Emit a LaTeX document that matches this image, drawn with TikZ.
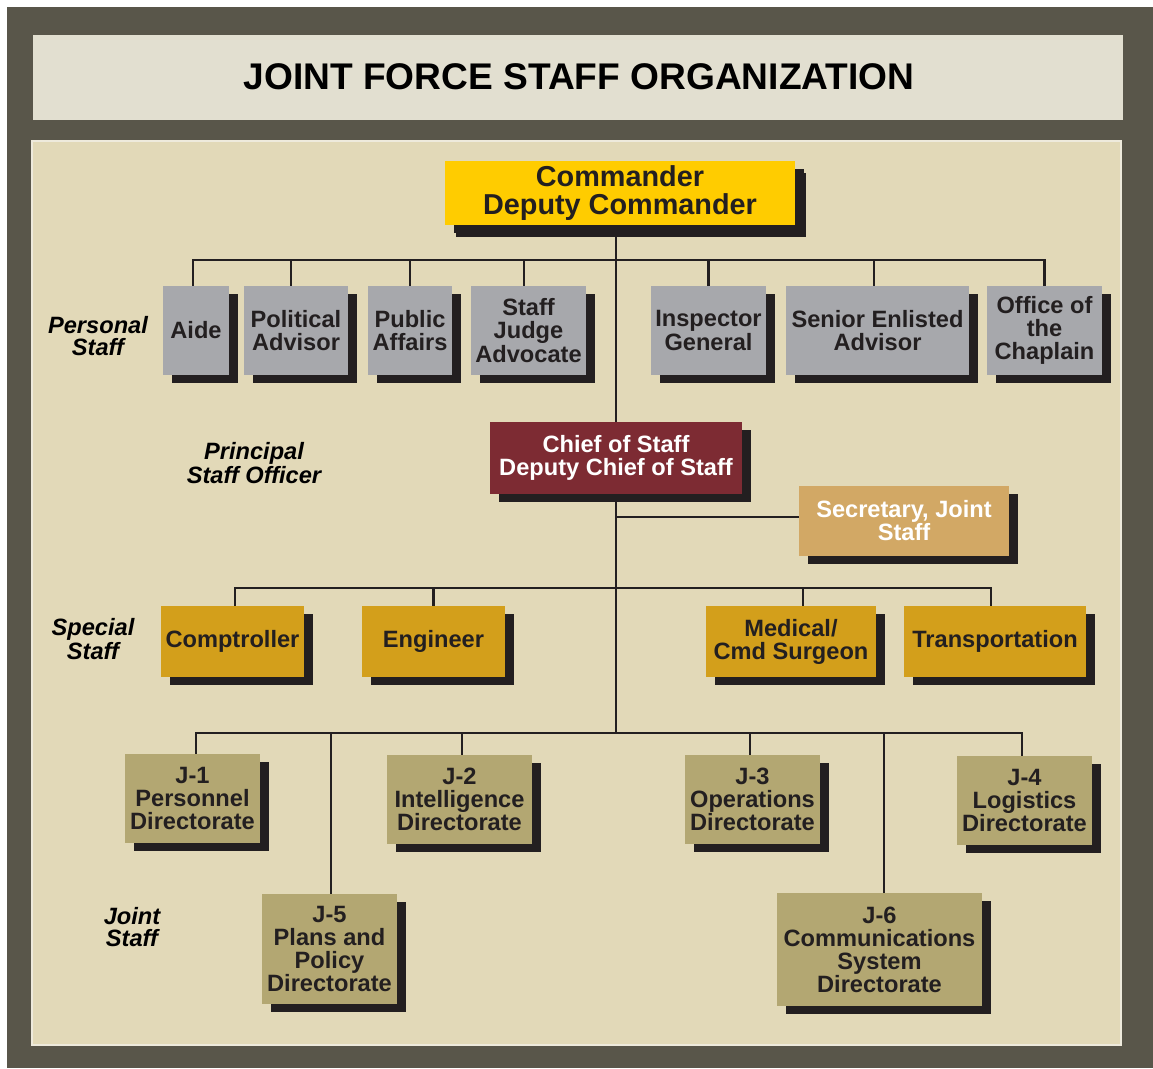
\documentclass[tikz,border=0pt]{standalone}
\usepackage{fontspec}
\setmainfont{Liberation Sans}
\usetikzlibrary{shadows}

\definecolor{frame}{HTML}{59564A}
\definecolor{band}{HTML}{E2DFD0}
\definecolor{panel}{HTML}{E2D9B8}
\definecolor{rim}{HTML}{EEEADC}
\definecolor{ink}{HTML}{231F20}
\definecolor{cmdyellow}{HTML}{FFCC00}
\definecolor{persgray}{HTML}{A7A8AC}
\definecolor{cosred}{HTML}{7D2B33}
\definecolor{sectan}{HTML}{D2A865}
\definecolor{specgold}{HTML}{D39F1B}
\definecolor{jointolive}{HTML}{B3A772}

\begin{document}
\begin{tikzpicture}[x=0.025cm, y=-0.025cm]
        \def\pix{0.025cm}
        \tikzstyle{box}=[inner sep=0pt, align=center, text=ink, font=\fontsize{16.8}{16.4}\selectfont\bfseries, drop shadow={shadow xshift=6.4pt, shadow yshift=-5.7pt, fill=ink, opacity=1}]
        \tikzstyle{personal}=[box, fill=persgray, minimum height=89*\pix]
        \tikzstyle{special}=[box, fill=specgold, minimum height=71*\pix]
        \tikzstyle{joint}=[box, fill=jointolive, minimum height=89*\pix]
        \tikzstyle{side}=[inner sep=0pt, align=center, text=black, font=\fontsize{16.8}{15.6}\selectfont\bfseries\itshape]
        \tikzstyle{link}=[draw=ink, line width=1.7pt]
        
        \useasboundingbox (0,0) rectangle (1153,1068);
        
        % Frame
        \fill[frame] (7,7) rectangle (1153,1068);
        \fill[band] (33,35) rectangle (1123,120);
        \filldraw[fill=panel, draw=rim, line width=1pt] (32,141) rectangle (1121,1045);
        \draw node at (579, 77) [black, font=\fontsize{26.4}{28}\selectfont\bfseries] (title) {JOINT FORCE STAFF ORGANIZATION};
        
        % Side labels
        \draw node at (98, 336) [side] (lpersonal) {Personal\\Staff};
        \draw node at (254, 463) [side] (lprincipal) {Principal\\Staff Officer};
        \draw node at (93, 639) [side] (lspecial) {Special\\Staff};
        \draw node at (132, 927) [side] (ljoint) {Joint\\Staff};
        
        % Commander
        \draw node at (620, 193) [box, fill=cmdyellow, minimum width=350*\pix, minimum height=64*\pix, font=\fontsize{20.5}{19.6}\selectfont\bfseries, drop shadow={shadow xshift=7.8pt, shadow yshift=-8.5pt, fill=ink, opacity=1}] (cmd) {Commander\\Deputy Commander};
        
        % Personal staff
        \draw node at (196, 330.5) [personal, minimum width=66*\pix] (aide) {Aide};
        \draw node at (296, 330.5) [personal, minimum width=104*\pix] (pol) {Political\\Advisor};
        \draw node at (410, 330.5) [personal, minimum width=84*\pix] (pub) {Public\\Affairs};
        \draw node at (528.5, 330.5) [personal, minimum width=115*\pix] (sja) {Staff\\Judge\\Advocate};
        \draw node at (708.5, 330.5) [personal, minimum width=115*\pix] (ig) {Inspector\\General};
        \draw node at (877.5, 330.5) [personal, minimum width=183*\pix] (sea) {Senior Enlisted\\Advisor};
        \draw node at (1044.5, 330.5) [personal, minimum width=115*\pix] (chap) {Office of\\the\\Chaplain};
        
        % Chief of staff
        \draw node at (616, 458) [box, fill=cosred, text=white, minimum width=252*\pix, minimum height=72*\pix] (cos) {Chief of Staff\\Deputy Chief of Staff};
        \draw node at (904, 521) [box, fill=sectan, text=white, minimum width=210*\pix, minimum height=70*\pix] (sec) {Secretary, Joint\\Staff};
        
        % Special staff
        \draw node at (232.5, 641.5) [special, minimum width=143*\pix] (comp) {Comptroller};
        \draw node at (433.5, 641.5) [special, minimum width=143*\pix] (eng) {Engineer};
        \draw node at (791, 641.5) [special, minimum width=170*\pix] (med) {Medical/\\Cmd Surgeon};
        \draw node at (995, 641.5) [special, minimum width=182*\pix] (trans) {Transportation};
        
        % Joint staff
        \draw node at (192.5, 798.5) [joint, minimum width=135*\pix] (j1) {J-1\\Personnel\\Directorate};
        \draw node at (459.5, 799.5) [joint, minimum width=145*\pix] (j2) {J-2\\Intelligence\\Directorate};
        \draw node at (752.5, 799.5) [joint, minimum width=135*\pix] (j3) {J-3\\Operations\\Directorate};
        \draw node at (1024.5, 800.5) [joint, minimum width=135*\pix] (j4) {J-4\\Logistics\\Directorate};
        \draw node at (329.5, 949) [joint, minimum width=135*\pix, minimum height=110*\pix] (j5) {J-5\\Plans and\\Policy\\Directorate};
        \draw node at (879.5, 949.5) [joint, minimum width=205*\pix, minimum height=113*\pix] (j6) {J-6\\Communications\\System\\Directorate};
        
        % Bars and drop points
        \coordinate (pbar) at (616, 260);
        \coordinate (sbar) at (616, 588);
        \coordinate (jbar) at (616, 733);
        \coordinate (secin) at ([yshift=4*\pix]sec.west);
        \foreach \n/\dx in {aide/-3, pol/-5, pub/0, sja/-4.5, ig/0, sea/-3.5, chap/0,
                            comp/2.5, eng/0, med/12, trans/-4,
                            j1/3.5, j2/2.5, j3/-2.5, j4/-2.5, j5/1.5, j6/4.5}
            \coordinate (\n-top) at ([xshift=\dx*\pix]\n.north);
        
        % Commander -> Chief of staff -> Joint staff
        \draw [link] (cos.north) -- (cos.north |- cmd.south);
        \draw [link] (cos.south) -- (jbar);
        \draw [link] (secin) -- (secin -| cos.south);
        
        % Commander -> Personal staff
        \draw [link] (aide-top) |- (pbar) -| (chap-top);
        \foreach \n in {pol,pub,sja,ig,sea}
            \draw [link] (\n-top) -- (\n-top |- pbar);
        
        % Chief of staff -> Special staff
        \draw [link] (comp-top) |- (sbar) -| (trans-top);
        \foreach \n in {eng,med}
            \draw [link] (\n-top) -- (\n-top |- sbar);
        
        % Chief of staff -> Joint staff
        \draw [link] (j1-top) |- (jbar) -| (j4-top);
        \foreach \n in {j2,j3,j5,j6}
            \draw [link] (\n-top) -- (\n-top |- jbar);
        
    \end{tikzpicture}
\end{document}
